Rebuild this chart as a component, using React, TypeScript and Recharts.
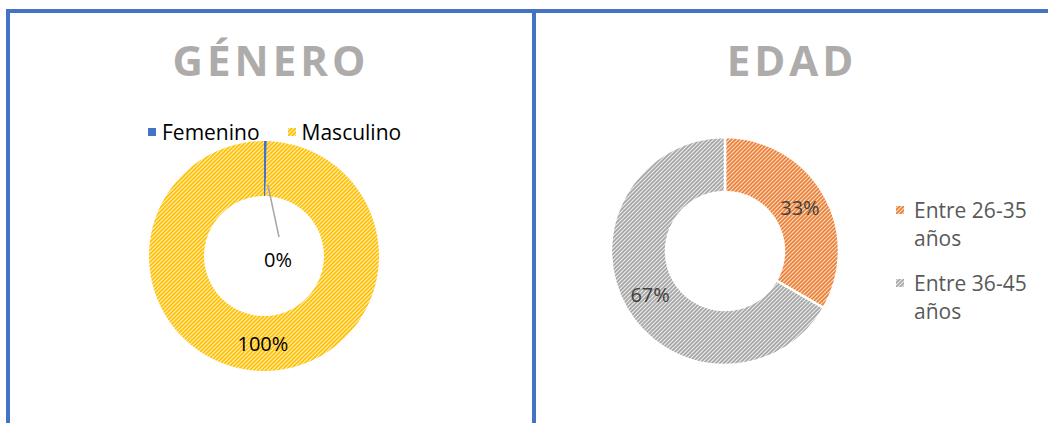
import React from 'react';
import { PieChart, Pie, Cell, Legend } from 'recharts';

// Género: the female share is 0%, drawn as a hairline sliver like the original
const generoNames = ['Femenino', 'Masculino'];
const generoValues = [0.4, 99.6];
const generoFills = ['#4472C4', 'url(#hatch-yellow)'];

// Edad: number of people per age range
const edadNames = ['Entre 26-35 años', 'Entre 36-45 años'];
const edadValues = [1, 2];
const edadFills = ['url(#hatch-orange)', 'url(#hatch-gray)'];

const generoData = generoNames.map((name, i) => ({ name, value: generoValues[i] }));
const edadData = edadNames.map((name, i) => ({ name, value: edadValues[i] }));

const RADIAN = Math.PI / 180;
const FONT = "'Open Sans', sans-serif";
const BLUE = '#4472C4';

const Hatch = ({ id, bg, fg }: { id: string; bg: string; fg: string }) => (
  <pattern id={id} width='4' height='4' patternUnits='userSpaceOnUse'>
    <rect width='4' height='4' fill={bg} />
    <path d='M-1,1 l2,-2 M0,4 l4,-4 M3,5 l2,-2' stroke={fg} strokeWidth='1.6' />
  </pattern>
);

const makeLabel = (color: string) => (props: any) => {
  const { cx, cy, midAngle, innerRadius, outerRadius, percent } = props;
  const text = `${Math.round(percent * 100)}%`;
  const a = -midAngle * RADIAN;
  if (percent < 0.02) {
    // tiny slice: label sits in the hole, with a leader line
    const r0 = innerRadius + 11;
    return (
      <g>
        <line
          x1={cx + r0 * Math.cos(a) + 3}
          y1={cy + r0 * Math.sin(a)}
          x2={cx + 15}
          y2={cy - 19}
          stroke='#A6A6A6'
          strokeWidth={1.5}
        />
        <text x={cx + 14} y={cy + 3} fill={color} fontSize={20} fontFamily={FONT} textAnchor='middle' dominantBaseline='central'>
          {text}
        </text>
      </g>
    );
  }
  const r = (innerRadius + outerRadius) / 2;
  return (
    <text
      x={cx + r * Math.cos(a)}
      y={cy + r * Math.sin(a)}
      fill={color}
      fontSize={20}
      fontFamily={FONT}
      textAnchor='middle'
      dominantBaseline='central'
    >
      {text}
    </text>
  );
};

const Marker = ({ fill }: { fill: string }) => (
  <svg width={8} height={8} style={{ flex: 'none' }}>
    <rect width={8} height={8} fill={fill} />
  </svg>
);

const GeneroLegend = ({ payload }: any) => (
  <div style={{ display: 'flex', gap: 28, fontFamily: FONT, fontSize: 21, lineHeight: '28px', color: '#000' }}>
    {(payload || []).map((entry: any, i: number) => (
      <div key={entry.value} style={{ display: 'flex', alignItems: 'center', gap: 6 }}>
        <Marker fill={generoFills[i]} />
        <span>{entry.value}</span>
      </div>
    ))}
  </div>
);

const EdadLegend = ({ payload }: any) => (
  <div style={{ display: 'flex', flexDirection: 'column', gap: 17, fontFamily: FONT, fontSize: 21, lineHeight: '28px', color: '#595959' }}>
    {(payload || []).map((entry: any, i: number) => (
      <div key={entry.value} style={{ display: 'flex', alignItems: 'flex-start', gap: 10 }}>
        <div style={{ height: 28, display: 'flex', alignItems: 'center' }}>
          <Marker fill={edadFills[i]} />
        </div>
        <span style={{ width: 125 }}>{entry.value}</span>
      </div>
    ))}
  </div>
);

const titleStyle = (left: number, width: number): React.CSSProperties => ({
  position: 'absolute',
  left,
  width,
  top: 39,
  textAlign: 'center',
  fontFamily: FONT,
  fontWeight: 700,
  fontSize: 42,
  lineHeight: '42px',
  letterSpacing: 4,
  color: '#AEABAB',
});

const App = () => {
  return (
    <div style={{ position: 'absolute', left: 0, top: 0, width: 1048, height: 423, background: '#fff', overflow: 'hidden' }}>
      <svg width={0} height={0} style={{ position: 'absolute' }}>
        <defs>
          <Hatch id='hatch-yellow' bg='#FFEDB8' fg='#FFC000' />
          <Hatch id='hatch-orange' bg='#FBDDC8' fg='#ED7D31' />
          <Hatch id='hatch-gray' bg='#EAEAEA' fg='#A5A5A5' />
        </defs>
      </svg>

      <div style={{ position: 'absolute', left: 0, top: 0 }}>
        <PieChart width={534} height={423}>
          <Pie
            data={generoData}
            dataKey='value'
            nameKey='name'
            cx={259}
            cy={251}
            innerRadius={60}
            outerRadius={115}
            startAngle={90}
            endAngle={-270}
            stroke='none'
            label={makeLabel('#000')}
            labelLine={false}
            isAnimationActive={false}
          >
            {generoData.map((d, i) => (
              <Cell key={d.name} fill={generoFills[i]} />
            ))}
          </Pie>
          <Legend content={<GeneroLegend />} wrapperStyle={{ left: 148, top: 118, width: 'auto' }} />
        </PieChart>
      </div>

      <div style={{ position: 'absolute', left: 535, top: 0 }}>
        <PieChart width={513} height={423}>
          <Pie
            data={edadData}
            dataKey='value'
            nameKey='name'
            cx={185}
            cy={246}
            innerRadius={59}
            outerRadius={114}
            startAngle={90}
            endAngle={-270}
            stroke='#fff'
            strokeWidth={2.5}
            label={makeLabel('#404040')}
            labelLine={false}
            isAnimationActive={false}
          >
            {edadData.map((d, i) => (
              <Cell key={d.name} fill={edadFills[i]} />
            ))}
          </Pie>
          <Legend content={<EdadLegend />} wrapperStyle={{ left: 361, top: 196, width: 'auto' }} />
        </PieChart>
      </div>

      <div style={titleStyle(10, 522)}>GÉNERO</div>
      <div style={titleStyle(536, 512)}>EDAD</div>

      <div style={{ position: 'absolute', left: 6, top: 9, width: 1042, height: 4, background: BLUE }} />
      <div style={{ position: 'absolute', left: 6, top: 9, width: 4, height: 414, background: BLUE }} />
      <div style={{ position: 'absolute', left: 532, top: 9, width: 4, height: 414, background: BLUE }} />
    </div>
  );
};

export default App;
